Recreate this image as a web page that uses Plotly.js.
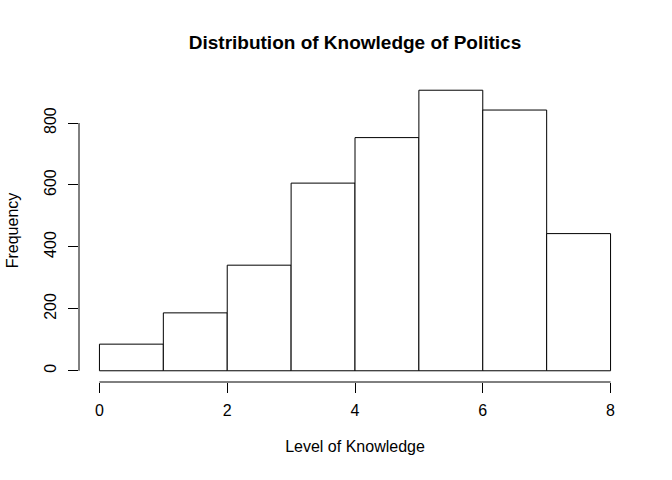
<!DOCTYPE html>
<html>
<head>
<meta charset="utf-8">
<script src="https://cdn.plot.ly/plotly-3.0.1.min.js"></script>
<style>html,body{margin:0;padding:0;background:#fff;}#chart{width:672px;height:480px;}</style>
</head>
<body>
<div id="chart"></div>
<script>
var breaks = [0, 1, 2, 3, 4, 5, 6, 7, 8];
var counts = [86, 187, 341, 606, 753, 906, 842, 443];
var xTicks = [0, 2, 4, 6, 8];
var yTicks = [0, 200, 400, 600, 800];
var titleText = "Distribution of Knowledge of Politics";
var xLabel = "Level of Knowledge";
var yLabel = "Frequency";

var mids = [], widths = [];
for (var i = 0; i < counts.length; i++) {
  mids.push((breaks[i] + breaks[i + 1]) / 2);
  widths.push(breaks[i + 1] - breaks[i]);
}
var xmin = breaks[0], xmax = breaks[breaks.length - 1];
var xpad = (xmax - xmin) * 0.04;
var ymax = Math.max.apply(null, counts);
var ypad = ymax * 0.04;

var fam = "Liberation Sans, Arial, Helvetica, sans-serif";
var font = {family: fam, color: "#000", size: 16};

var trace = {
  type: "bar",
  x: mids,
  y: counts,
  width: widths,
  marker: {color: "#ffffff", line: {color: "#000000", width: 1}},
  hoverinfo: "skip"
};

var layout = {
  width: 672, height: 480,
  paper_bgcolor: "#fff", plot_bgcolor: "#fff",
  margin: {l: 79, r: 40.5, t: 78.6, b: 98.3},
  font: font,
  showlegend: false,
  bargap: 0,
  title: {text: "<b>" + titleText + "</b>", font: {family: fam, size: 19, color: "#000"},
          x: 0.5, xref: "paper", y: 1 - 42 / 480, yref: "container", yanchor: "middle"},
  xaxis: {
    range: [xmin - xpad, xmax + xpad],
    tickvals: xTicks, ticktext: xTicks.map(String),
    ticks: "outside", ticklen: 10, tickwidth: 1, tickcolor: "#000",
    ticklabelstandoff: 4,
    showline: false, showgrid: false, zeroline: false,
    tickfont: font,
    title: {text: xLabel, font: font, standoff: 22}
  },
  yaxis: {
    range: [-ypad, ymax + ypad],
    tickvals: yTicks, ticktext: yTicks.map(String),
    ticks: "outside", ticklen: 10, tickwidth: 1, tickcolor: "#000",
    tickangle: -90,
    ticklabelstandoff: 6,
    showline: false, showgrid: false, zeroline: false,
    tickfont: font,
    title: {text: yLabel, font: font, standoff: 18}
  },
  shapes: [
    {type: "line", xref: "x", yref: "paper", x0: xTicks[0], x1: xTicks[xTicks.length - 1], y0: 0, y1: 0,
     line: {color: "#000", width: 1}},
    {type: "line", xref: "paper", yref: "y", x0: 0, x1: 0, y0: yTicks[0], y1: yTicks[yTicks.length - 1],
     line: {color: "#000", width: 1}}
  ]
};

Plotly.newPlot("chart", [trace], layout, {displayModeBar: false, staticPlot: true});
</script>
</body>
</html>
